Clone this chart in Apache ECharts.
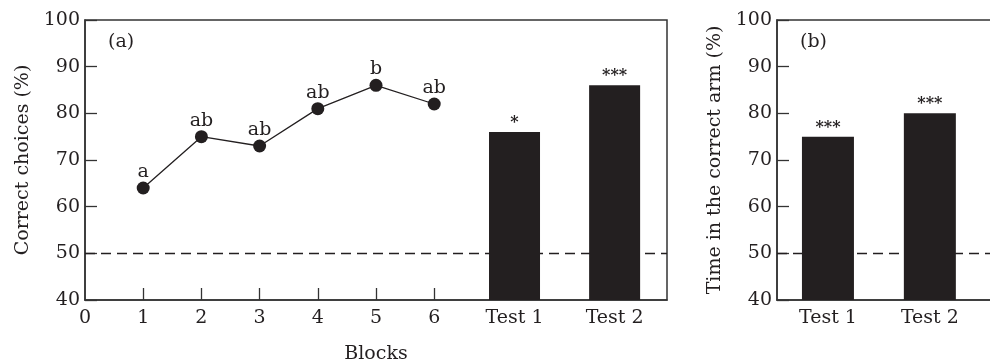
<!DOCTYPE html>
<html>
<head>
<meta charset="utf-8">
<script src="https://cdn.jsdelivr.net/npm/echarts@6/dist/echarts.min.js"></script>
<style>
html,body{margin:0;padding:0;background:#fff;}
#chart{width:990px;height:359px;}
</style>
</head>
<body>
<div id="chart"></div>
<script>
// ---- data ----
const blocks = [1, 2, 3, 4, 5, 6];
const correctChoices = [64, 75, 73, 81, 86, 82];
const blockLetters = ['a', 'ab', 'ab', 'ab', 'b', 'ab'];
const blockTickLabels = [0, 1, 2, 3, 4, 5, 6];
const testLabels = ['Test 1', 'Test 2'];
const testPosA = [7.38, 9.1];
const testCorrectA = [76, 86];
const testSigA = ['*', '***'];
const testPosB = [1, 3];
const timeCorrectB = [75, 80];
const testSigB = ['***', '***'];
const chanceLevel = 50;
const panelLabels = ['(a)', '(b)'];

// ---- styles ----
const FONT = 'DejaVu Serif';
const INK = '#231f20';
const AXIS = '#333';

const chart = echarts.init(document.getElementById('chart'), null, {renderer: 'canvas'});

function yAxisCfg(gridIndex, name) {
  return {
    type: 'value', gridIndex, min: 40, max: 100, interval: 10,
    name, nameLocation: 'middle', nameGap: 52, nameRotate: 90,
    nameTextStyle: {fontFamily: FONT, fontSize: 19, color: INK},
    axisLine: {show: true, lineStyle: {color: AXIS, width: 1.5}},
    axisTick: {show: true, inside: true, length: 12, lineStyle: {color: AXIS, width: 1.3}},
    axisLabel: {margin: 5, fontFamily: FONT, fontSize: 19, color: INK},
    splitLine: {show: false}
  };
}

const chanceMark = {
  silent: true, symbol: 'none', z: 1,
  label: {show: false},
  lineStyle: {color: INK, type: [10, 6], width: 1.3},
  data: [{yAxis: chanceLevel}]
};

const option = {
  animation: false,
  backgroundColor: '#fff',
  grid: [
    {left: 85, right: 323, top: 20, bottom: 59, outerBoundsMode: 'none', containLabel: false, show: true, borderColor: AXIS, borderWidth: 1.5, backgroundColor: 'transparent'},
    {left: 777, right: -1, top: 20, bottom: 59, outerBoundsMode: 'none', containLabel: false, show: true, borderColor: AXIS, borderWidth: 1.5, backgroundColor: 'transparent'}
  ],
  xAxis: [
    {
      type: 'value', gridIndex: 0, min: 0, max: 10, interval: 1,
      name: 'Blocks', nameLocation: 'middle', nameGap: 45,
      nameTextStyle: {fontFamily: FONT, fontSize: 19, color: INK},
      axisLine: {show: true, lineStyle: {color: AXIS, width: 1.5}},
      axisTick: {show: true, inside: true, length: 12, customValues: blocks, lineStyle: {color: AXIS, width: 1.3}},
      axisLabel: {
        margin: 9, fontFamily: FONT, fontSize: 19, color: INK,
        customValues: blockTickLabels.concat(testPosA),
        formatter: function (v) {
          const i = testPosA.indexOf(v);
          return i >= 0 ? testLabels[i] : String(v);
        }
      },
      splitLine: {show: false}
    },
    {
      type: 'value', gridIndex: 1, min: 0, max: 4.2,
      axisLine: {show: true, lineStyle: {color: AXIS, width: 1.5}},
      axisTick: {show: false},
      axisLabel: {
        margin: 9, fontFamily: FONT, fontSize: 19, color: INK,
        customValues: testPosB,
        formatter: function (v) {
          const i = testPosB.indexOf(v);
          return i >= 0 ? testLabels[i] : '';
        }
      },
      splitLine: {show: false}
    }
  ],
  yAxis: [
    yAxisCfg(0, 'Correct choices (%)'),
    yAxisCfg(1, 'Time in the correct arm (%)')
  ],
  graphic: [
    {type: 'text', left: 108, top: 33, style: {text: panelLabels[0], font: '19px "DejaVu Serif"', fill: INK}},
    {type: 'text', left: 800, top: 33, style: {text: panelLabels[1], font: '19px "DejaVu Serif"', fill: INK}}
  ],
  series: [
    {
      type: 'line', xAxisIndex: 0, yAxisIndex: 0, z: 4,
      data: blocks.map((b, i) => [b, correctChoices[i]]),
      symbol: 'circle', symbolSize: 13,
      itemStyle: {color: INK},
      lineStyle: {color: INK, width: 1.3},
      label: {
        show: true, position: 'top', distance: 0,
        fontFamily: FONT, fontSize: 19, color: INK,
        formatter: p => blockLetters[p.dataIndex]
      },
      markLine: chanceMark
    },
    {
      type: 'bar', xAxisIndex: 0, yAxisIndex: 0, z: 3,
      data: testPosA.map((x, i) => [x, testCorrectA[i]]),
      barWidth: 51,
      itemStyle: {color: INK},
      label: {
        show: true, position: 'top', distance: 1,
        fontFamily: FONT, fontSize: 16, fontWeight: 'bold', color: INK,
        formatter: p => testSigA[p.dataIndex]
      }
    },
    {
      type: 'bar', xAxisIndex: 1, yAxisIndex: 1, z: 3,
      data: testPosB.map((x, i) => [x, timeCorrectB[i]]),
      barWidth: 52,
      itemStyle: {color: INK},
      label: {
        show: true, position: 'top', distance: 1,
        fontFamily: FONT, fontSize: 16, fontWeight: 'bold', color: INK,
        formatter: p => testSigB[p.dataIndex]
      },
      markLine: chanceMark
    }
  ]
};
chart.setOption(option);
</script>
</body>
</html>
